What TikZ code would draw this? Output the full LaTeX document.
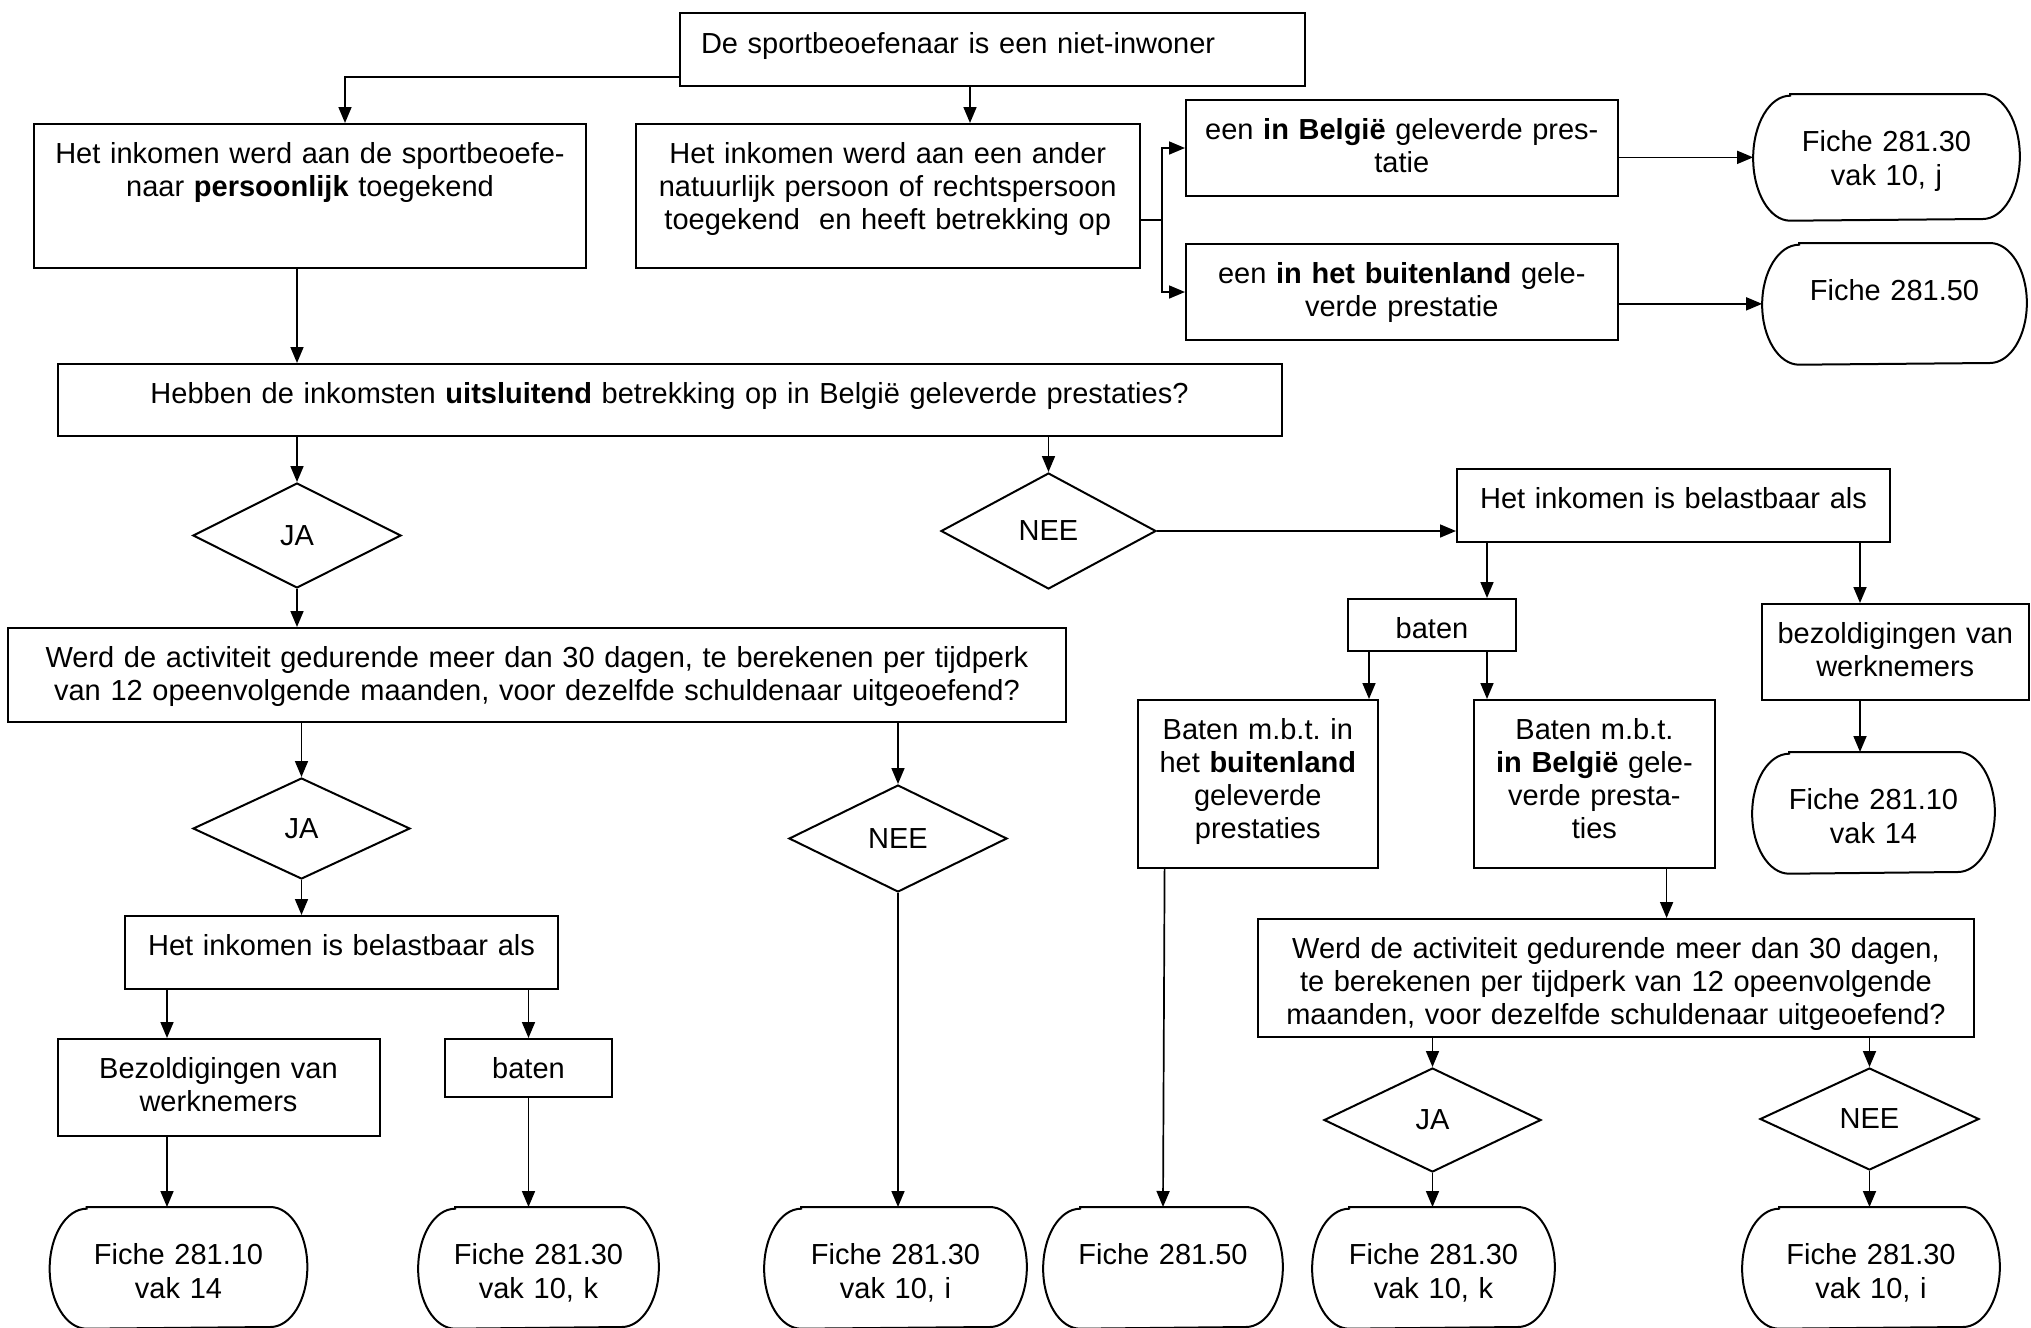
\documentclass[tikz,border=0pt]{standalone}
\usepackage{fontspec}
\setmainfont{Liberation Sans}
\usetikzlibrary{arrows.meta,shapes.geometric,calc}
\frenchspacing

\tikzset{every picture/.style={line width=0.85pt}}
\newcommand{\flowfont}{\fontsize{14.5pt}{16.6pt}\selectfont}
\tikzset{
	box/.style={draw, line width=1pt, rectangle, inner sep=0pt, align=center, text height=19.5pt, anchor=north, font=\flowfont},
	term/.style={rectangle, inner sep=0pt, align=center, text height=28.5pt, text depth=31.5pt, anchor=north, font=\flowfont},
	dec/.style={diamond, draw, line width=1pt, inner sep=0pt, font=\flowfont},
	arr/.style={-{Triangle[length=8pt,width=6.5pt]}}
}
% outline of a terminal: flat top and bottom, elliptic sides
\newcommand{\termline}[2]{\draw[line width=1pt] ($(#1.north west)+(37,0)$) -- ($(#1.north east)+(-37,0)$) arc[start angle=-90,end angle=90,x radius=37,y radius=#2] -- ($(#1.south west)+(37,0)$) arc[start angle=90,end angle=270,x radius=37,y radius=#2] -- cycle;}

\begin{document}
\begin{tikzpicture}[x=0.5pt,y=0.5pt,yscale=-1]
	\useasboundingbox (0,0) rectangle (2031,1328);
	
	%Shape: Rectangle [top]
	\node[box, align=left, inner xsep=10.5pt, text width=291.5pt, text depth=16.5pt, text height=20pt, inner ysep=0pt] (top) at (992.5,12) {De sportbeoefenaar is een niet-inwoner};
	%Shape: Rectangle [persoonlijk]
	\node[box, text width=276pt, text depth=52.5pt] (boxA) at (310,123) {Het inkomen werd aan de sportbeoefe-\\naar \textbf{persoonlijk} toegekend};
	%Shape: Rectangle [ander persoon]
	\node[box, text width=251.75pt, text depth=52.5pt] (boxB) at (887.75,123) {Het inkomen werd aan een ander\\natuurlijk persoon of rechtspersoon\\toegekend\ \ en heeft betrekking op};
	%Shape: Rectangle [in Belgie]
	\node[box, text width=215.8pt, text depth=28.5pt] (boxC) at (1401.8,99) {een \textbf{in België} geleverde pres-\\tatie};
	%Shape: Rectangle [buitenland]
	\node[box, text width=215.8pt, text depth=28.5pt] (boxD) at (1401.8,243) {een \textbf{in het buitenland} gele-\\verde prestatie};
	%Shape: Terminal
	\node[term, text width=132.5pt, text depth=34pt] (tE) at (1886.5,94) {Fiche 281.30\\vak 10, j};
	\termline{tE}{62.5}
	\node[term, text width=131.5pt] (tF) at (1894.5,243) {Fiche 281.50};
	\termline{tF}{60}
	
	%Shape: Rectangle [vraag 1]
	\node[box, text width=612pt, text depth=16.5pt] (q1) at (669.5,363) {Hebben de inkomsten \textbf{uitsluitend} betrekking op in België geleverde prestaties?};
	%Shape: Diamond
	\node[dec, minimum width=104pt, minimum height=52.5pt] (ja1) at (297,535.5) {JA};
	\node[dec, minimum width=107.5pt, minimum height=58pt] (nee1) at (1048.5,531) {NEE};
	
	%Shape: Rectangle [vraag 2]
	\node[box, text width=529pt, text depth=27.5pt] (q2) at (537,627) {Werd de activiteit gedurende meer dan 30 dagen, te berekenen per tijdperk\\van 12 opeenvolgende maanden, voor dezelfde schuldenaar uitgeoefend?};
	\node[dec, minimum width=108.5pt, minimum height=50.5pt] (ja2) at (301.5,828.5) {JA};
	\node[dec, minimum width=109pt, minimum height=53.5pt] (nee2) at (898,838.5) {NEE};
	
	%Shape: Rectangle [links]
	\node[box, text width=216.5pt, text depth=17pt] (lbel) at (341.5,915) {Het inkomen is belastbaar als};
	\node[box, text width=161pt, text depth=29pt] (bezl) at (218.5,1038) {Bezoldigingen van\\werknemers};
	\node[box, text width=83.5pt, text depth=9.5pt] (batl) at (528.5,1038) {baten};
	
	%Shape: Rectangle [rechts]
	\node[box, text width=216.5pt, text depth=17pt] (rbel) at (1673.5,468) {Het inkomen is belastbaar als};
	\node[box, text width=84pt, text depth=6.5pt] (batr) at (1432,598) {baten};
	\node[box, text width=133.75pt, text depth=28.5pt] (bezr) at (1895.25,603) {bezoldigingen van\\werknemers};
	\node[box, text width=120.2pt, text depth=64.5pt] (bbu) at (1257.8,699) {Baten m.b.t. in\\het \textbf{buitenland}\\geleverde\\prestaties};
	\node[box, text width=120.2pt, text depth=64.5pt] (bbe) at (1594.4,699) {Baten m.b.t.\\\textbf{in België} gele-\\verde presta-\\ties};
	\node[term, text width=120.5pt] (t7) at (1873.5,752) {Fiche 281.10\\vak 14};
	\termline{t7}{60}
	
	%Shape: Rectangle [vraag 3]
	\node[box, text width=358pt, text depth=39.5pt] (q3) at (1616,918) {Werd de activiteit gedurende meer dan 30 dagen,\\te berekenen per tijdperk van 12 opeenvolgende\\maanden, voor dezelfde schuldenaar uitgeoefend?};
	\node[dec, minimum width=108.5pt, minimum height=52pt] (ja3) at (1432.5,1120) {JA};
	\node[dec, minimum width=109.5pt, minimum height=51pt] (nee3) at (1869.5,1119) {NEE};
	
	%Shape: Terminal [onderste rij]
	\node[term, text width=128pt] (t1) at (178.5,1207) {Fiche 281.10\\vak 14};
	\termline{t1}{60}
	\node[term, text width=119.5pt] (t2) at (538.5,1207) {Fiche 281.30\\vak 10, k};
	\termline{t2}{60}
	\node[term, text width=130.5pt] (t3) at (895.5,1207) {Fiche 281.30\\vak 10, i};
	\termline{t3}{60}
	\node[term, text width=119pt] (t4) at (1163,1207) {Fiche 281.50};
	\termline{t4}{60}
	\node[term, text width=120.5pt] (t5) at (1433.5,1207) {Fiche 281.30\\vak 10, k};
	\termline{t5}{60}
	\node[term, text width=128pt] (t6) at (1871,1207) {Fiche 281.30\\vak 10, i};
	\termline{t6}{60}
	
	%Straight Lines [bovenaan]
	\draw[arr] ($(top.south west)+(0,-10)$) -| ($(boxA.north)+(35,0)$);
	\coordinate (tb) at ($(top.south)+(-22.5,0)$);
	\draw[arr] (tb) -- (tb |- boxB.north);
	\draw[arr] (boxA.south -| ja1.north) -- (q1.north -| ja1.north);
	\coordinate (fk) at ($(boxB.east)+(21.5,24)$);
	\draw (boxB.east |- fk) -- (fk);
	\draw[arr] (fk) |- (boxC.west);
	\draw[arr] (fk) |- (boxD.west);
	\draw[arr] (boxC.east |- tE.west) -- (tE.west);
	\draw[arr] (boxD.east |- tF.west) -- (tF.west);
	
	%Straight Lines [vraag 1]
	\draw[arr] (q1.south -| ja1.north) -- (ja1.north);
	\draw[arr] (q1.south -| nee1.north) -- (nee1.north);
	\draw[arr] (ja1.south) -- (ja1.south |- q2.north);
	\draw[arr] (nee1.east) -- (nee1.east -| rbel.west);
	
	%Straight Lines [links]
	\draw[arr] (q2.south -| ja2.north) -- (ja2.north);
	\draw[arr] (q2.south -| nee2.north) -- (nee2.north);
	\draw[arr] (ja2.south) -- (ja2.south |- lbel.north);
	\coordinate (lb) at ($(lbel.south west)+(43,0)$);
	\draw[arr] (lb) -- (lb |- bezl.north);
	\draw[arr] (lbel.south -| batl.north) -- (batl.north);
	\draw[arr] (bezl.south -| lb) -- (t1.north -| lb);
	\draw[arr] (batl.south) -- (batl.south |- t2.north);
	\draw[arr] (nee2.south) -- (nee2.south |- t3.north);
	
	%Straight Lines [rechts]
	\coordinate (rb1) at ($(rbel.south west)+(31,0)$);
	\coordinate (rb2) at ($(rbel.south east)+(-31,0)$);
	\draw[arr] (rb1) -- (rb1 |- batr.north);
	\draw[arr] (rb2) -- (rb2 |- bezr.north);
	\coordinate (br) at ($(batr.south west)+(22,0)$);
	\draw[arr] (br) -- (br |- bbu.north);
	\draw[arr] (batr.south -| rb1) -- (bbe.north -| rb1);
	\draw[arr] ($(bbu.south west)+(28,0)$) -- (t4.north);
	\coordinate (be) at ($(bbe.south east)+(-49,0)$);
	\draw[arr] (be) -- (be |- q3.north);
	\draw[arr] (bezr.south -| rb2) -- (t7.north -| rb2);
	\draw[arr] (q3.south -| ja3.north) -- (ja3.north);
	\draw[arr] (q3.south -| nee3.north) -- (nee3.north);
	\draw[arr] (ja3.south) -- (ja3.south |- t5.north);
	\draw[arr] (nee3.south) -- (nee3.south |- t6.north);
	
\end{tikzpicture}
\end{document}
